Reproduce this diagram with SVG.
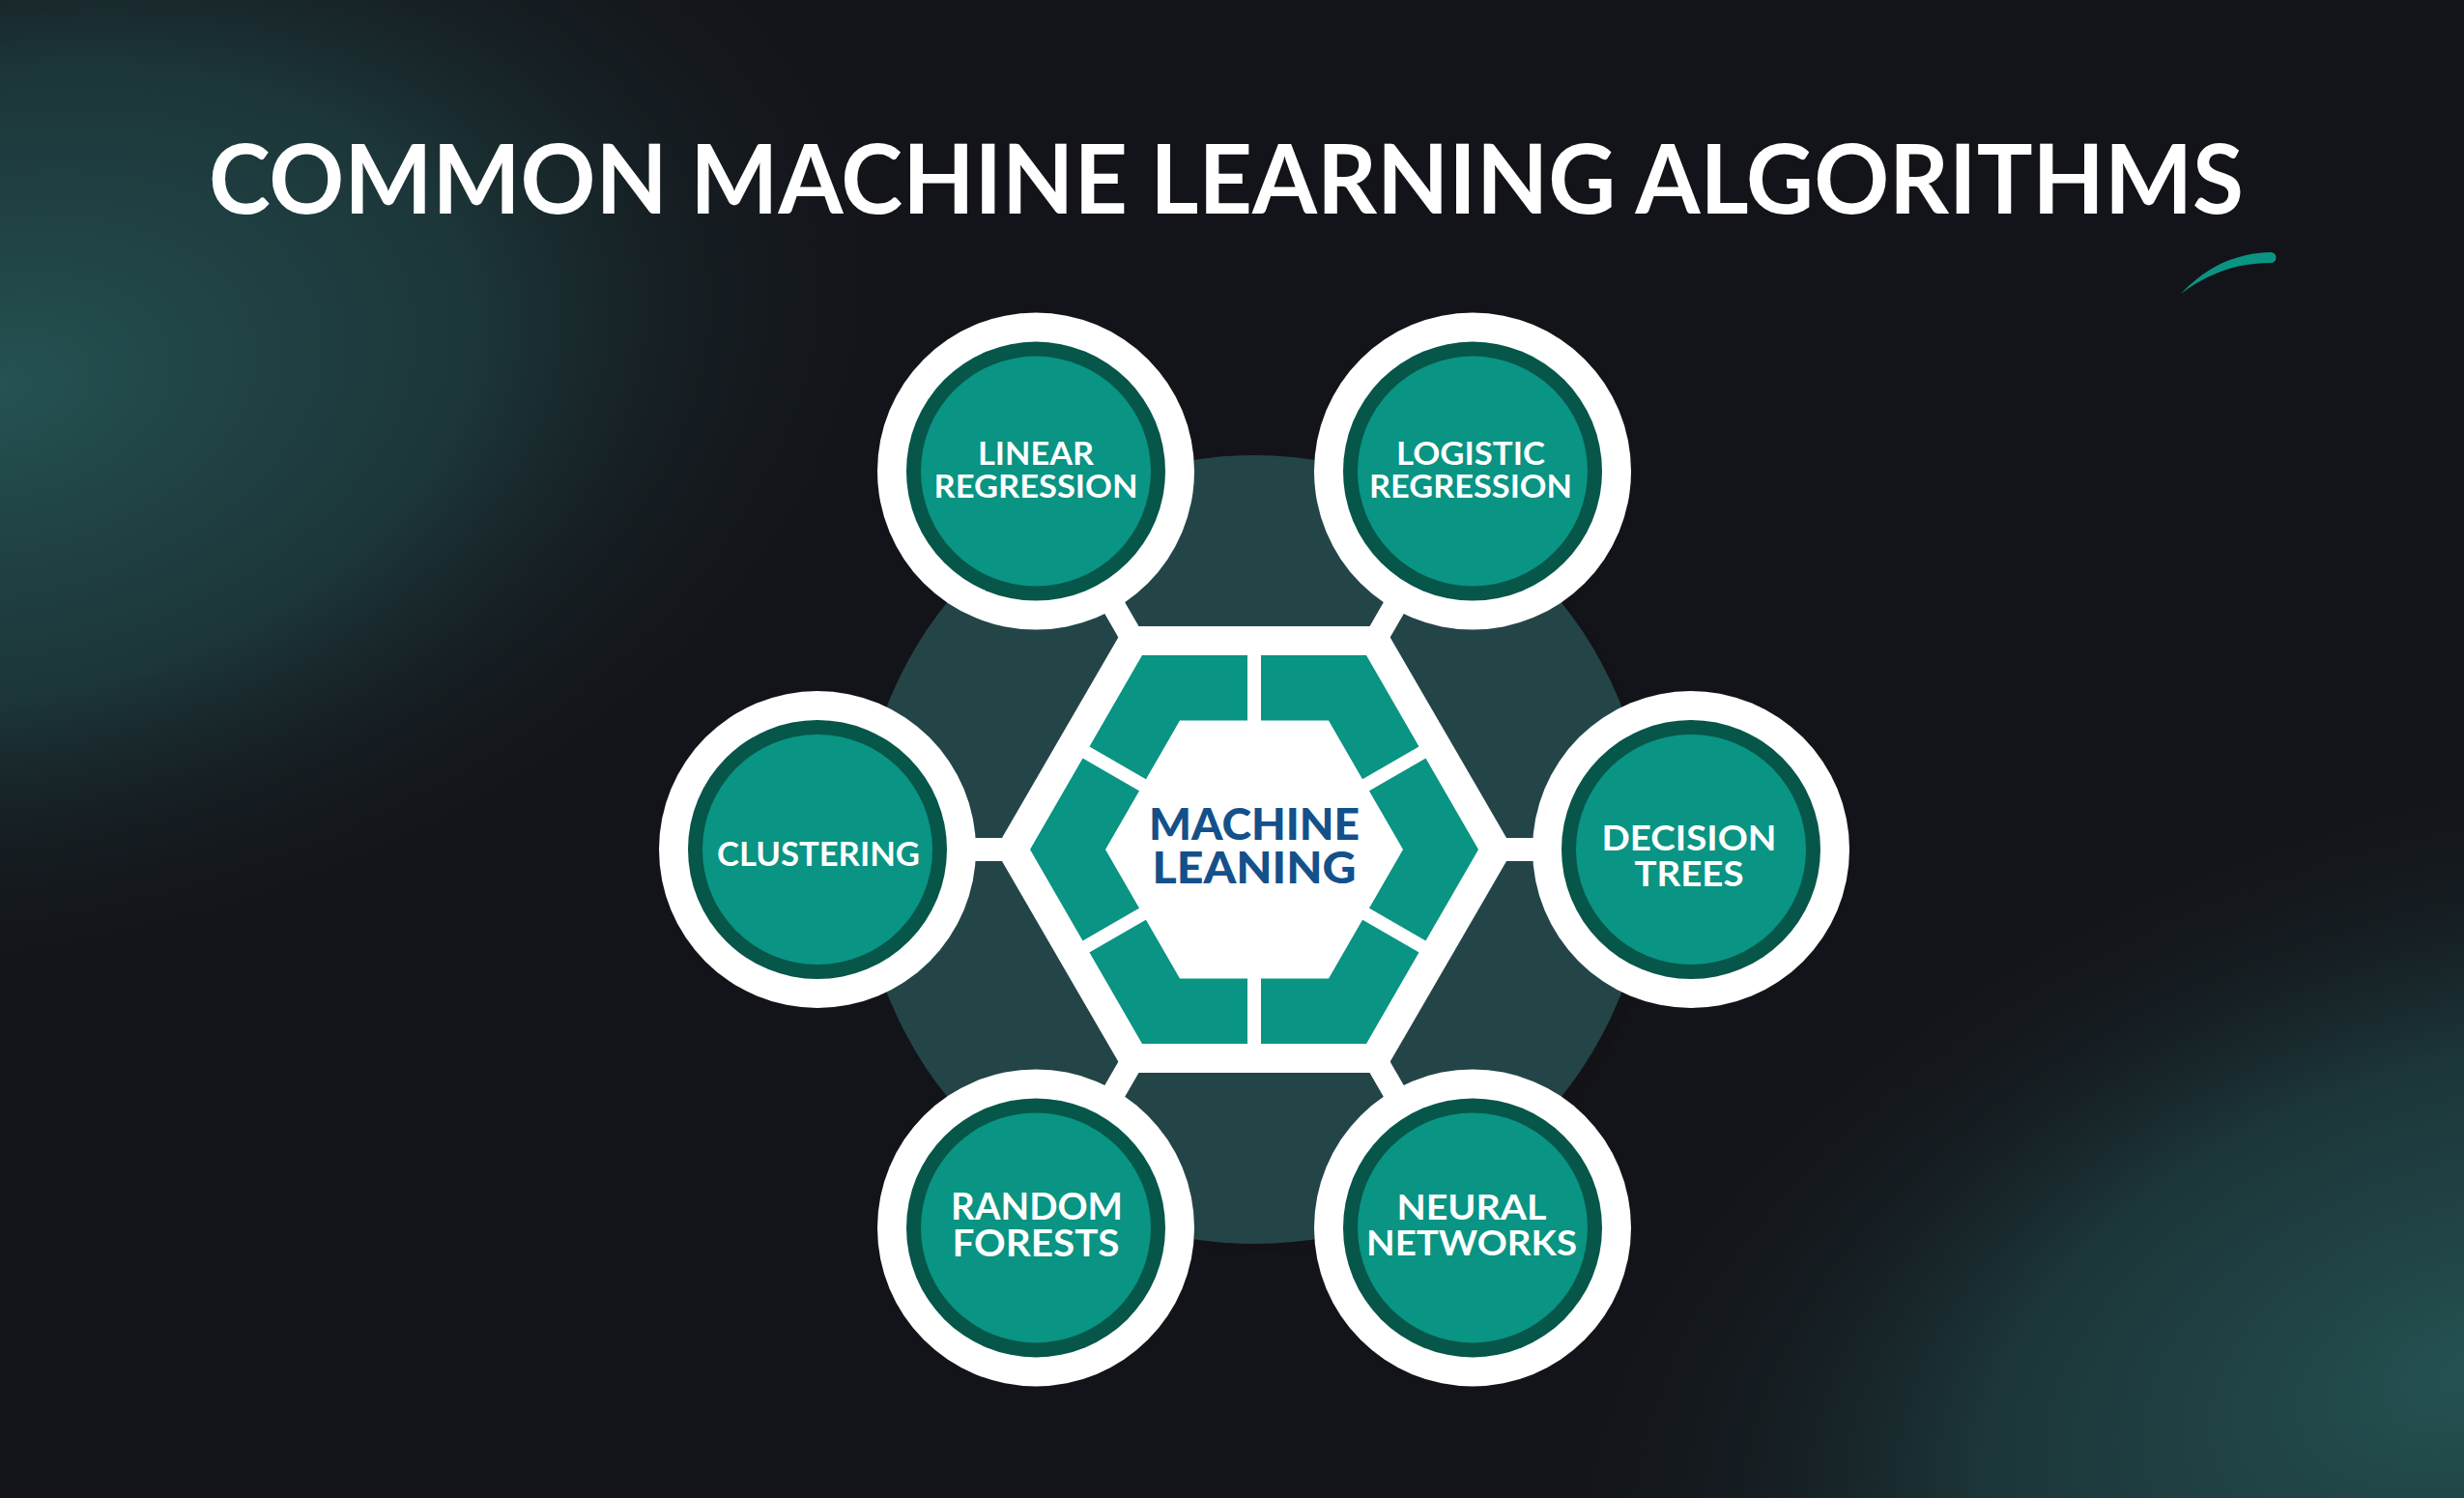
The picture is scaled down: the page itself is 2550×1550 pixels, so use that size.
<svg xmlns="http://www.w3.org/2000/svg" width="2550" height="1550" viewBox="0 0 2550 1550">
<defs>
<radialGradient id="glowTL" gradientUnits="userSpaceOnUse" cx="0" cy="0" r="1" gradientTransform="translate(0,400) rotate(-12) scale(1000,640)">
<stop offset="0" stop-color="#255253" stop-opacity="1"/>
<stop offset="0.5" stop-color="#1f4143" stop-opacity="0.75"/>
<stop offset="1" stop-color="#131419" stop-opacity="0"/>
</radialGradient>
<radialGradient id="glowBR" gradientUnits="userSpaceOnUse" cx="0" cy="0" r="1" gradientTransform="translate(2560,1420) rotate(-18) scale(1050,640)">
<stop offset="0" stop-color="#255253" stop-opacity="1"/>
<stop offset="0.5" stop-color="#1f4143" stop-opacity="0.75"/>
<stop offset="1" stop-color="#131419" stop-opacity="0"/>
</radialGradient>
<style>
.title{font-family:"Lato","Liberation Sans",sans-serif;font-weight:700;fill:#ffffff}
.lbl{font-family:"Lato","Liberation Sans",sans-serif;font-weight:700;fill:#ffffff;text-anchor:middle}
.core{font-family:"Lato","Liberation Sans",sans-serif;font-weight:900;fill:#14508a;text-anchor:middle}
.ring{fill:#ffffff}
.band{fill:#06564a}
.fillc{fill:#099483}
.conn{stroke:#ffffff;stroke-width:24;fill:none}
.gap{stroke:#ffffff;stroke-width:14;fill:none}
</style>
</defs>
<rect x="0" y="0" width="2550" height="1550" fill="#131419"/>
<rect x="0" y="0" width="2550" height="1550" fill="url(#glowTL)"/>
<rect x="0" y="0" width="2550" height="1550" fill="url(#glowBR)"/>

<text class="title" x="216" y="221" font-size="99" textLength="2106" lengthAdjust="spacingAndGlyphs">COMMON MACHINE LEARNING ALGORITHMS</text>
<path d="M2257 304 C2280 279 2310 262 2350 261 A5.5 5.5 0 0 1 2350 272 C2315 272 2285 283 2257 304 Z" fill="#0a9483"/>

<g id="backdrop">
<circle cx="1308" cy="887" r="408" fill="#121217"/>
<circle cx="1298" cy="879" r="408" fill="#234548"/>
</g>

<g id="connectors">
<line class="conn" x1="1298" y1="879" x2="1072" y2="487.6"/>
<line class="conn" x1="1298" y1="879" x2="1524" y2="487.6"/>
<line class="conn" x1="1298" y1="879" x2="846" y2="879"/>
<line class="conn" x1="1298" y1="879" x2="1750" y2="879"/>
<line class="conn" x1="1298" y1="879" x2="1072" y2="1270.4"/>
<line class="conn" x1="1298" y1="879" x2="1524" y2="1270.4"/>
</g>

<g id="machine-learning">
<polygon fill="#ffffff" points="1566,879 1432,647.9 1164,647.9 1030,879 1164,1110.1 1432,1110.1"/>
<path fill="#099483" fill-rule="evenodd" d="M1530,879 L1414,678.1 L1182,678.1 L1066,879 L1182,1079.9 L1414,1079.9 Z M1452,879 L1375,745.6 L1221,745.6 L1144,879 L1221,1012.4 L1375,1012.4 Z"/>
<line class="gap" x1="1298" y1="879" x2="1298" y2="654"/>
<line class="gap" x1="1298" y1="879" x2="1298" y2="1104"/>
<line class="gap" x1="1298" y1="879" x2="1492.9" y2="766.5"/>
<line class="gap" x1="1298" y1="879" x2="1492.9" y2="991.5"/>
<line class="gap" x1="1298" y1="879" x2="1103.1" y2="766.5"/>
<line class="gap" x1="1298" y1="879" x2="1103.1" y2="991.5"/>
<text class="core" x="1298" y="869" font-size="45" textLength="218" lengthAdjust="spacingAndGlyphs">MACHINE</text>
<text class="core" x="1298" y="914" font-size="45" textLength="211" lengthAdjust="spacingAndGlyphs">LEANING</text>
</g>

<g id="linear-regression">
<circle class="ring" cx="1072" cy="487.6" r="164"/>
<circle class="band" cx="1072" cy="487.6" r="134"/>
<circle class="fillc" cx="1072" cy="487.6" r="119"/>
<text class="lbl" x="1072" y="481" font-size="33" textLength="120" lengthAdjust="spacingAndGlyphs">LINEAR</text>
<text class="lbl" x="1072" y="515" font-size="33" textLength="211" lengthAdjust="spacingAndGlyphs">REGRESSION</text>
</g>

<g id="logistic-regression">
<circle class="ring" cx="1524" cy="487.6" r="164"/>
<circle class="band" cx="1524" cy="487.6" r="134"/>
<circle class="fillc" cx="1524" cy="487.6" r="119"/>
<text class="lbl" x="1522" y="481" font-size="33" textLength="154" lengthAdjust="spacingAndGlyphs">LOGISTIC</text>
<text class="lbl" x="1522" y="515" font-size="33" textLength="210" lengthAdjust="spacingAndGlyphs">REGRESSION</text>
</g>

<g id="clustering">
<circle class="ring" cx="846" cy="879" r="164"/>
<circle class="band" cx="846" cy="879" r="134"/>
<circle class="fillc" cx="846" cy="879" r="119"/>
<text class="lbl" x="847" y="896" font-size="33.5" textLength="210" lengthAdjust="spacingAndGlyphs">CLUSTERING</text>
</g>

<g id="decision-trees">
<circle class="ring" cx="1750" cy="879" r="164"/>
<circle class="band" cx="1750" cy="879" r="134"/>
<circle class="fillc" cx="1750" cy="879" r="119"/>
<text class="lbl" x="1748" y="880" font-size="36.5" textLength="181" lengthAdjust="spacingAndGlyphs">DECISION</text>
<text class="lbl" x="1748" y="917" font-size="36.5" textLength="113" lengthAdjust="spacingAndGlyphs">TREES</text>
</g>

<g id="random-forests">
<circle class="ring" cx="1072" cy="1270.4" r="164"/>
<circle class="band" cx="1072" cy="1270.4" r="134"/>
<circle class="fillc" cx="1072" cy="1270.4" r="119"/>
<text class="lbl" x="1073" y="1262" font-size="38" textLength="178" lengthAdjust="spacingAndGlyphs">RANDOM</text>
<text class="lbl" x="1072" y="1300" font-size="38" textLength="173" lengthAdjust="spacingAndGlyphs">FORESTS</text>
</g>

<g id="neural-networks">
<circle class="ring" cx="1524" cy="1270.4" r="164"/>
<circle class="band" cx="1524" cy="1270.4" r="134"/>
<circle class="fillc" cx="1524" cy="1270.4" r="119"/>
<text class="lbl" x="1523" y="1262" font-size="36.5" textLength="155" lengthAdjust="spacingAndGlyphs">NEURAL</text>
<text class="lbl" x="1523" y="1299" font-size="36.5" textLength="218" lengthAdjust="spacingAndGlyphs">NETWORKS</text>
</g>
</svg>
